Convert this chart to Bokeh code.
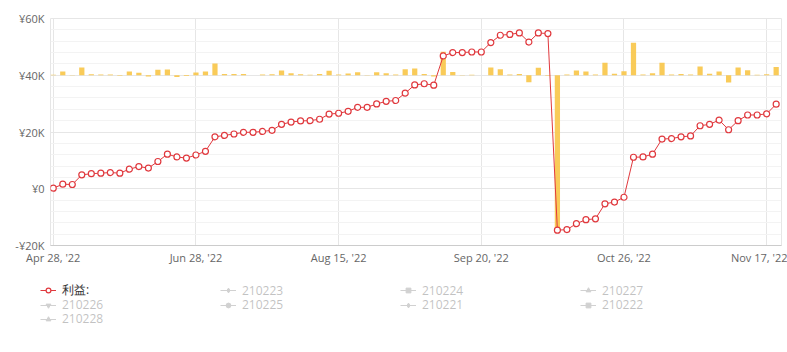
from bokeh.plotting import figure
from bokeh.layouts import column
from bokeh.models import ColumnDataSource, Range1d, FixedTicker, Legend, LegendItem
from bokeh.embed import file_html
from bokeh.resources import INLINE

# ---- data ----
profit = [200, 1600, 1500, 4900, 5300, 5500, 5700, 5500, 6900, 7800,
          7300, 9600, 12200, 11200, 10800, 11900, 13200, 18300, 18800, 19300,
          19900, 19900, 20200, 20600, 22700, 23500, 23900, 24000, 24500, 26300,
          26600, 27300, 28700, 28700, 29900, 30800, 31100, 33700, 36600, 37000,
          36500, 46800, 48000, 48000, 48200, 48200, 51500, 54100, 54400, 54900,
          51700, 54900, 54700, -14600, -14400, -12300, -10900, -10600, -5300, -4700,
          -3000, 11100, 11200, 12200, 17500, 17700, 18300, 18600, 22200, 22700,
          24200, 20800, 24000, 26000, 26000, 26400, 29800]

daily = [200, 1600, -100, 3400, 400, 300, 300, -200, 1600, 1100,
         -500, 2400, 2500, -800, -300, 1200, 1600, 5200, 500, 500,
         600, 0, 300, 400, 2100, 900, 400, 200, 600, 2000,
         300, 800, 1300, 100, 1300, 900, 300, 2600, 3000, 500,
         -500, 10300, 1400, 100, 200, 0, 3400, 2600, 300, 600,
         -3100, 3300, -200, -69300, 300, 2100, 1600, 300, 5500, 700,
         1800, 14300, 300, 900, 5500, 300, 600, 300, 3800, 700,
         1700, -3200, 3400, 2200, 200, 400, 3600]

x_tick_index = [0, 15, 30, 45, 60, 75]
x_tick_labels = ["Apr 28, '22", "Jun 28, '22", "Aug 15, '22",
                 "Sep 20, '22", "Oct 26, '22", "Nov 17, '22"]

y_ticks = [-20000, 0, 20000, 40000, 60000]
y_tick_labels = ["-¥20K", "¥0", "¥20K", "¥40K", "¥60K"]
y_minor = [-16000, -12000, -8000, -4000, 4000, 8000, 12000, 16000,
           24000, 28000, 32000, 36000, 44000, 48000, 52000, 56000]

series_names = ["利益:", "210223", "210224", "210227", "210226",
                "210225", "210221", "210222", "210228"]
series_markers = ["circle", "diamond", "square", "triangle", "inverted_triangle",
                  "circle", "diamond", "square", "triangle"]

idx = list(range(len(profit)))
src = ColumnDataSource(dict(x=idx, profit=profit, daily=daily))

RED = "#e0393e"
FONT = "Open Sans"

p = figure(width=787, height=267, output_backend="svg", toolbar_location=None,
           x_range=Range1d(-0.29, 76.56), y_range=Range1d(-20000, 60000),
           min_border_left=50, min_border_right=6, min_border_top=18,
           min_border_bottom=22)
p.background_fill_color = "white"
p.border_fill_color = "white"
p.outline_line_color = "#e6e6e6"

p.extra_y_ranges = {"bar": Range1d(-75000, 25000)}

# grids
p.xgrid.ticker = FixedTicker(ticks=x_tick_index)
p.xgrid.grid_line_color = "#e6e6e6"
p.ygrid.ticker = FixedTicker(ticks=y_ticks, minor_ticks=y_minor)
p.ygrid.grid_line_color = "#e6e6e6"
p.ygrid.minor_grid_line_color = "#f3f3f3"

# axes
xa = p.xaxis[0]
xa.ticker = FixedTicker(ticks=x_tick_index)
xa.major_label_overrides = {i: l for i, l in zip(x_tick_index, x_tick_labels)}
xa.axis_line_color = "#cccccc"
xa.major_tick_line_color = None
xa.minor_tick_line_color = None
xa.major_tick_out = 0
xa.major_tick_in = 0
xa.minor_tick_out = 0
xa.major_label_standoff = 4
xa.major_label_text_font = FONT
xa.major_label_text_font_size = "11px"
xa.major_label_text_color = "#666666"

ya = p.yaxis[0]
ya.ticker = FixedTicker(ticks=y_ticks)
ya.major_label_overrides = {t: l for t, l in zip(y_ticks, y_tick_labels)}
ya.axis_line_color = None
ya.major_tick_line_color = None
ya.minor_tick_line_color = None
ya.major_tick_out = 0
ya.minor_tick_out = 0
ya.major_label_standoff = 6
ya.major_label_text_font = FONT
ya.major_label_text_font_size = "11px"
ya.major_label_text_color = "#666666"

# daily bars (secondary hidden scale, zero aligned with ¥40K)
p.vbar(x="x", top="daily", bottom=0, width=0.55, source=src, y_range_name="bar",
       fill_color="#f8c547", fill_alpha=0.9, line_color=None)

# profit line
p.line("x", "profit", source=src, line_color=RED, line_width=1)
p.scatter("x", "profit", source=src, marker="circle", size=6,
          fill_color="white", line_color=RED, line_width=1.2)

# ---- legend strip below the chart ----
lg = figure(width=787, height=85, output_backend="svg", toolbar_location=None,
            x_range=Range1d(0, 1), y_range=Range1d(0, 1),
            min_border_left=0, min_border_right=0, min_border_top=0,
            min_border_bottom=0, x_axis_location=None, y_axis_location=None,
            frame_align=False)
lg.grid.visible = False
lg.outline_line_color = None
lg.background_fill_color = "white"
lg.border_fill_color = "white"

items = []
for i, (name, mk) in enumerate(zip(series_names, series_markers)):
    off = ColumnDataSource(dict(x=[-10, -9], y=[-10, -10]))  # outside the strip's view
    if i == 0:
        l2 = lg.line("x", "y", source=off, line_color=RED, line_width=1)
        s2 = lg.scatter("x", "y", source=off, marker=mk, size=6,
                        fill_color="white", line_color=RED, line_width=1.2)
    else:
        l2 = lg.line("x", "y", source=off, line_color="#666666", line_width=1,
                     visible=False)
        s2 = lg.scatter("x", "y", source=off, marker=mk, size=6,
                        fill_color="#666666", line_color="#666666", visible=False)
    items.append(LegendItem(label=name, renderers=[l2, s2]))

# one legend per row, so the rows sit 14px apart as in the reference
row_offsets = [53, 39, 25]
for r, yoff in enumerate(row_offsets):
    row_items = items[r * 4:(r + 1) * 4]
    legend = Legend(items=row_items, orientation="horizontal",
                    location=(40, yoff), click_policy="hide",
                    padding=0, margin=0, spacing=1,
                    glyph_width=16, glyph_height=12, label_height=12,
                    label_width=157, label_standoff=6,
                    label_text_font=FONT, label_text_font_size="12px",
                    label_text_color="#333333",
                    border_line_color=None, background_fill_alpha=0)
    lg.add_layout(legend)

layout = column(p, lg, spacing=0)
open("out.html", "w").write(file_html(layout, INLINE))
